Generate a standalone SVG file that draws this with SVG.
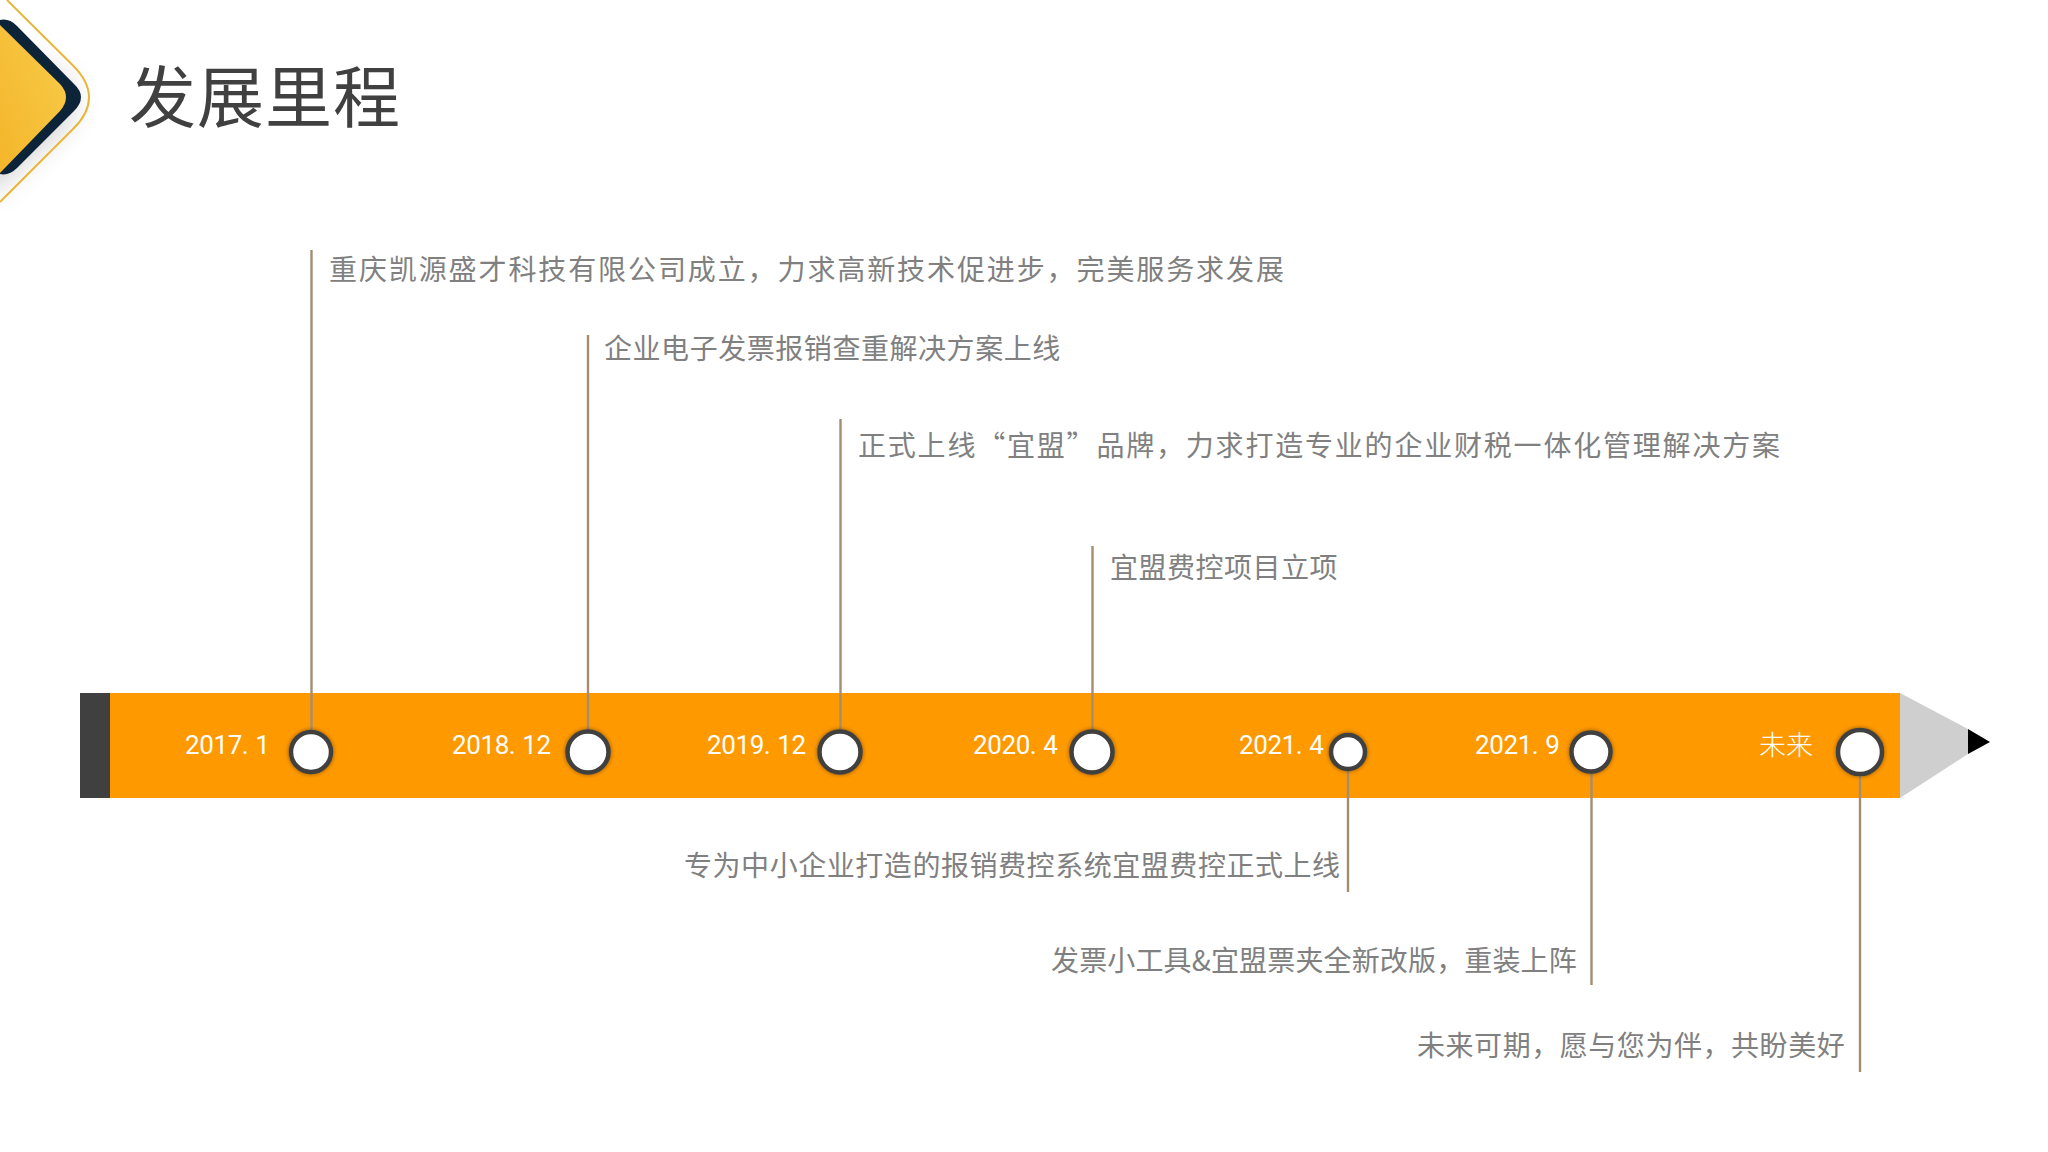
<svg xmlns="http://www.w3.org/2000/svg" width="2048" height="1152" viewBox="0 0 2048 1152">
<defs>
<linearGradient id="gy" x1="0" y1="1" x2="1" y2="0"><stop offset="0" stop-color="#f4b52a"/><stop offset="1" stop-color="#f8cc4a"/></linearGradient>
<filter id="sh" x="-60%" y="-60%" width="220%" height="220%"><feGaussianBlur stdDeviation="15"/></filter>
<filter id="cs" x="-30%" y="-30%" width="160%" height="160%"><feDropShadow dx="0" dy="0" stdDeviation="2" flood-color="#000" flood-opacity=".45"/></filter>
</defs>
<style>
.cn{font-family:"Noto Sans CJK SC","Noto Sans",sans-serif;font-size:28px;fill:#808080;font-weight:400}
.dt{font-family:"Roboto","Liberation Sans",sans-serif;font-size:26px;fill:#fff;font-weight:400;letter-spacing:-.4px}
.ld{stroke:#a58e6f;stroke-width:2.4;fill:none}
.nd{fill:#fff;stroke:#404040;stroke-width:4.5;filter:url(#cs)}
</style>
<rect width="2048" height="1152" fill="#fff"/>
<g id="badge">
<path d="M-20,30 L70,85 L70,120 L-20,200Z" fill="#000" opacity=".2" filter="url(#sh)"/>
<path d="M7,0 L73,65.5 Q105,97.5 73,129 L0,202" fill="none" stroke="#e8b73a" stroke-width="2"/>
<path d="M0,20 Q9,18 17,26 L74,84 Q88,97 74,111 L17,168 Q9,176 0,174Z" fill="#0c2338"/>
<path d="M0,25 L60,84 Q72,97 60,111 L0,173Z" fill="url(#gy)"/>
</g>
<text id="title" x="129" y="122" style="font-family:'Noto Sans CJK SC',sans-serif;font-size:67px;fill:#404040;letter-spacing:1px">发展里程</text>
<g id="pencil">
<rect x="80" y="693" width="30" height="105" fill="#404040"/>
<rect x="110" y="693" width="1790" height="105" fill="#ff9900"/>
<path d="M1900,693 L1968,729 L1968,754 L1900,798Z" fill="#cfcfcf"/>
<path d="M1968,729 L1990,742 L1968,754Z" fill="#000"/>
</g>
<g id="connectors">
<path class="ld" d="M311.500,250V732M588,335V732M840.500,419V732M1092.500,546V732M1348,771V892M1591.500,773V985M1860,776V1072"/>
</g>
<g id="n1"><circle class="nd" cx="311" cy="752" r="20"/><text class="dt" x="185" y="754">2017.<tspan dx="7">1</tspan></text><text class="cn" x="329" y="280" style="letter-spacing:1.9px">重庆凯源盛才科技有限公司成立，力求高新技术促进步，完美服务求发展</text></g>
<g id="n2"><circle class="nd" cx="588" cy="752" r="20.500"/><text class="dt" x="452" y="754">2018.<tspan dx="7">12</tspan></text><text class="cn" x="604" y="359" style="letter-spacing:.55px">企业电子发票报销查重解决方案上线</text></g>
<g id="n3"><circle class="nd" cx="840" cy="752" r="20.500"/><text class="dt" x="707" y="754">2019.<tspan dx="7">12</tspan></text><text class="cn" x="858" y="456" style="letter-spacing:1.8px">正式上线“宜盟”品牌，力求打造专业的企业财税一体化管理解决方案</text></g>
<g id="n4"><circle class="nd" cx="1092" cy="752" r="20.500"/><text class="dt" x="973" y="754">2020.<tspan dx="7">4</tspan></text><text class="cn" x="1110" y="578" style="letter-spacing:.5px">宜盟费控项目立项</text></g>
<g id="n5"><circle class="nd" cx="1348" cy="752" r="17"/><text class="dt" x="1239" y="754">2021.<tspan dx="7">4</tspan></text><text class="cn" x="684" y="876" style="letter-spacing:.55px">专为中小企业打造的报销费控系统宜盟费控正式上线</text></g>
<g id="n6"><circle class="nd" cx="1591" cy="752" r="19.500"/><text class="dt" x="1475" y="754">2021.<tspan dx="7">9</tspan></text><text class="cn" x="1051" y="971" style="letter-spacing:.15px">发票小工具&amp;宜盟票夹全新改版，重装上阵</text></g>
<g id="n7"><circle class="nd" cx="1860" cy="752" r="22"/><text x="1759" y="755" style="font-family:'Noto Sans CJK SC',sans-serif;font-size:27px;fill:#fff;font-weight:300">未来</text><text class="cn" x="1417" y="1056" style="letter-spacing:.55px">未来可期，愿与您为伴，共盼美好</text></g>
</svg>
